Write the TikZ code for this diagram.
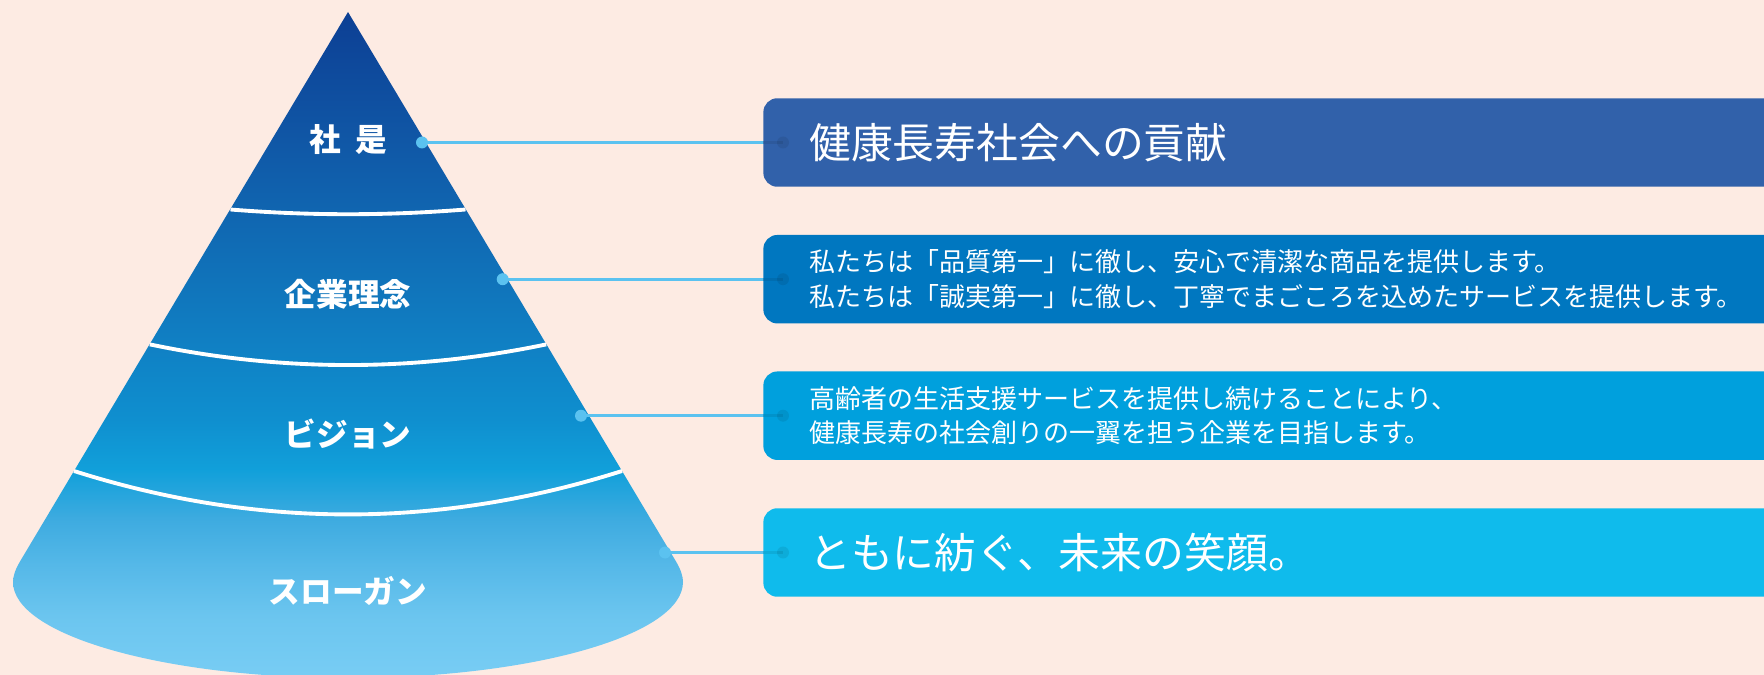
\documentclass[tikz,border=0pt]{standalone}
\usepackage{fontspec}
\newfontfamily\jpfont{Noto Sans CJK JP}
\usetikzlibrary{calc}

\definecolor{bgpeach}{HTML}{FDEBE3}
\definecolor{linkblue}{HTML}{5BC2F0}
\definecolor{boxA}{HTML}{3161AA}
\definecolor{boxB}{HTML}{0077C0}
\definecolor{boxC}{HTML}{00A0DD}
\definecolor{boxD}{HTML}{0FBBEC}

% cone colours, bottom (25bp) to apex (75bp)
\pgfdeclareverticalshading{conefill}{100bp}{rgb(0bp)=(0.471,0.804,0.957); rgb(25bp)=(0.471,0.804,0.957); rgb(29.7bp)=(0.420,0.773,0.937); rgb(33.5bp)=(0.333,0.722,0.910); rgb(36.9bp)=(0.243,0.671,0.878); rgb(40.6bp)=(0.067,0.627,0.855); rgb(44.4bp)=(0.059,0.561,0.812); rgb(54.9bp)=(0.063,0.451,0.729); rgb(65.4bp)=(0.063,0.341,0.651); rgb(75bp)=(0.047,0.247,0.580); rgb(100bp)=(0.047,0.247,0.580)}

\tikzset{
  tier/.style={text=white, font=\jpfont\bfseries\fontsize{18pt}{20pt}\selectfont},
  banner/.style={anchor=west, fill=#1, rounded corners=0.28cm, minimum height=1.77cm,
    text width=18.9cm, inner xsep=0.92cm, inner ysep=0pt, align=left, text=white},
  bigtext/.style={font=\jpfont\fontsize{23.8pt}{28pt}\selectfont},
  smalltext/.style={font=\jpfont\fontsize{14.8pt}{19.8pt}\selectfont},
  link/.style={draw=linkblue, line width=1.9pt},
  divider/.style={draw=white, line width=2.2pt},
  enddot/.style={fill=black, fill opacity=0.08},
}

\begin{document}
\begin{tikzpicture}[x=0.02cm, y=-0.02cm]
			%%%%% START %%%%%
			\useasboundingbox (0,0) rectangle (1764,675);
			\clip (0,0) rectangle (1764,675);
			\fill[bgpeach] (0,0) rectangle (1764,675);
			
			% cone
			\shade[shading=conefill] (348,12) -- (19.7,562) .. controls (15.2,569.7) and (13,576.4) .. (13,582)
				.. controls (13,635) and (163,678) .. (348,678)
				.. controls (533,678) and (683,635) .. (683,582)
				.. controls (683,576.4) and (680.8,569.7) .. (676.3,562) -- cycle;
			
			\draw[divider] (230.5,209.5) .. controls (308.8,215.8) and (387.2,215.8) .. (465.5,209.5);
			\draw[divider] (149.8,344.4) .. controls (281.9,371.9) and (414.1,371.9) .. (546.2,344.4);
			\draw[divider] (74,471) .. controls (256.7,528.9) and (439.3,528.9) .. (622,471);
			
			\node[tier] (shaze) at (348,140) {社\hspace{0.45em}是};
			\node[tier] (rinen) at (348,294) {企業理念};
			\node[tier] (vision) at (348,434) {ビジョン};
			\node[tier] (slogan) at (348,591) {スローガン};
			
			% connectors
			\coordinate (p1) at (422,142.5);
			\coordinate (p2) at (502.7,279.2);
			\coordinate (p3) at (581,415.7);
			\coordinate (p4) at (665,552.5);
			\coordinate (q1) at (783,142.5);
			\coordinate (q2) at (783,279.2);
			\coordinate (q3) at (783,415.7);
			\coordinate (q4) at (783,552.5);
			
			\foreach \i in {1,...,4}{
				\draw[link] (p\i) -- (q\i);
				\fill[linkblue] (p\i) circle (0.12cm);
			}
			
			% boxes
			\node[banner=boxA, bigtext] (motto) at (763,142.5) {健康長寿社会への貢献};
			\node[banner=boxB, smalltext] (rinenbox) at (763,279.2) {私たちは「品質第一」に徹し、安心で清潔な商品を提供します。\\私たちは「誠実第一」に徹し、丁寧でまごころを込めたサービスを提供します。};
			\node[banner=boxC, smalltext] (visionbox) at (763,415.7) {高齢者の生活支援サービスを提供し続けることにより、\\健康長寿の社会創りの一翼を担う企業を目指します。};
			\node[banner=boxD, bigtext] (sloganbox) at (763,552.5) {ともに紡ぐ、未来の笑顔。};
			
			\draw[link, draw=black, draw opacity=0.08] (motto.west) -- (q1);
			\draw[link, draw=black, draw opacity=0.08] (rinenbox.west) -- (q2);
			\draw[link, draw=black, draw opacity=0.08] (visionbox.west) -- (q3);
			\draw[link, draw=black, draw opacity=0.08] (sloganbox.west) -- (q4);
			\foreach \i in {1,...,4}
				\fill[enddot] (q\i) circle (0.12cm);
			%%%%% END %%%%%
\end{tikzpicture}
\end{document}
